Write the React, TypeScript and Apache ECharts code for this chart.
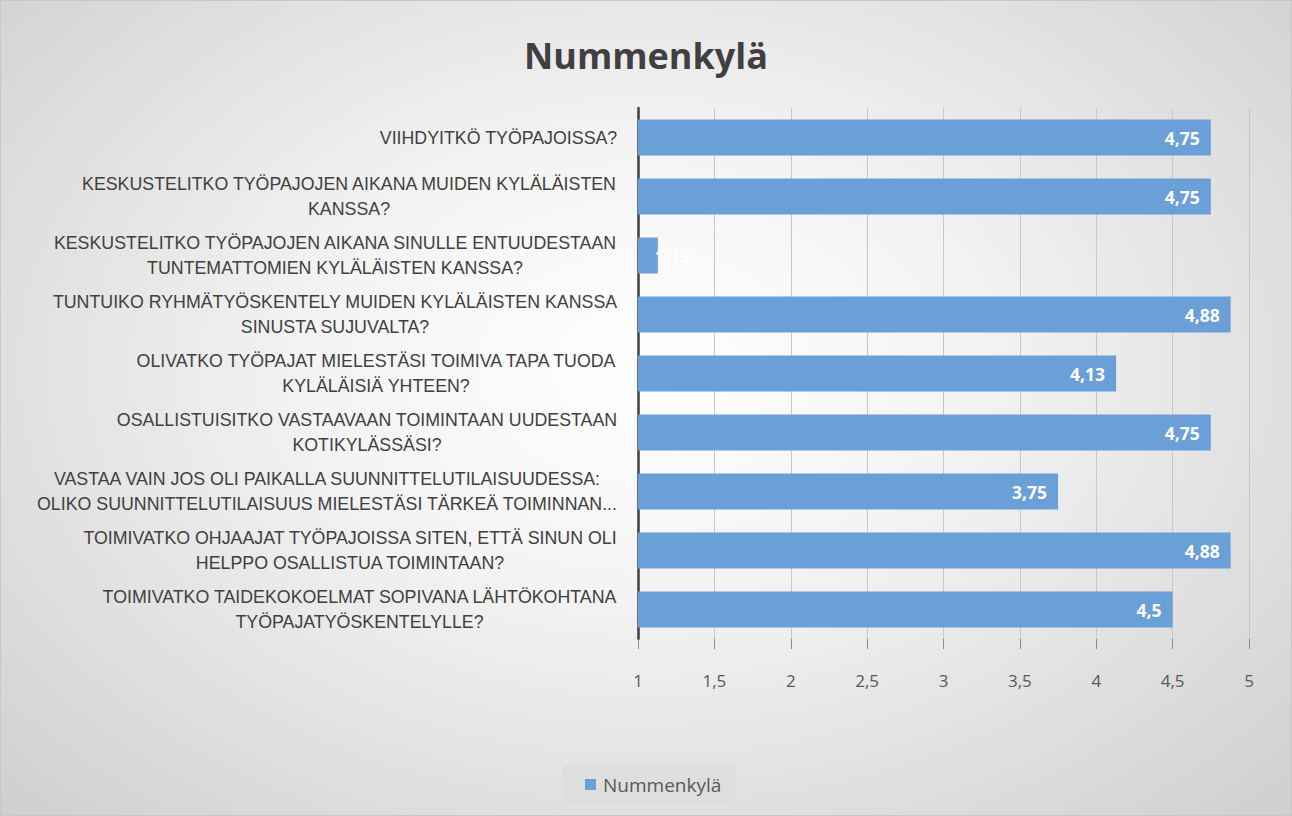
import React, { useEffect, useRef } from "react";
import * as echarts from "echarts";

const TITLE = "Nummenkylä";
const SERIES_NAME = "Nummenkylä";

const categories: string[] = [
  "VIIHDYITKÖ TYÖPAJOISSA?",
  "KESKUSTELITKO TYÖPAJOJEN AIKANA MUIDEN KYLÄLÄISTEN\nKANSSA?",
  "KESKUSTELITKO TYÖPAJOJEN AIKANA SINULLE ENTUUDESTAAN\nTUNTEMATTOMIEN KYLÄLÄISTEN KANSSA?",
  "TUNTUIKO RYHMÄTYÖSKENTELY MUIDEN KYLÄLÄISTEN KANSSA\nSINUSTA SUJUVALTA?",
  "OLIVATKO TYÖPAJAT MIELESTÄSI TOIMIVA TAPA TUODA\nKYLÄLÄISIÄ YHTEEN?",
  "OSALLISTUISITKO VASTAAVAAN TOIMINTAAN UUDESTAAN\nKOTIKYLÄSSÄSI?",
  "VASTAA VAIN JOS OLI PAIKALLA SUUNNITTELUTILAISUUDESSA:\nOLIKO SUUNNITTELUTILAISUUS MIELESTÄSI TÄRKEÄ TOIMINNAN...",
  "TOIMIVATKO OHJAAJAT TYÖPAJOISSA SITEN, ETTÄ SINUN OLI\nHELPPO OSALLISTUA TOIMINTAAN?",
  "TOIMIVATKO TAIDEKOKOELMAT SOPIVANA LÄHTÖKOHTANA\nTYÖPAJATYÖSKENTELYLLE?",
];

const values: number[] = [4.75, 4.75, 1.13, 4.88, 4.13, 4.75, 3.75, 4.88, 4.5];

const xMin = 1;
const xMax = 5;
const xInterval = 0.5;

const FONT = '"Open Sans", sans-serif';
const LABEL_FONT = '"Liberation Sans", Arial, sans-serif';
const LABEL_SIZE = 17.8;

const fmt = (v: number) => String(v).replace(".", ",");

export default function App() {
  const ref = useRef<HTMLDivElement>(null);

  useEffect(() => {
    document.body.style.margin = "0";
    if (!ref.current) return;
    const chart = echarts.init(ref.current, undefined, { renderer: "svg" });

    const canvas = document.createElement("canvas");
    const ctx = canvas.getContext("2d")!;
    ctx.font = `${LABEL_SIZE}px ${LABEL_FONT}`;
    const rich: Record<string, any> = {};
    categories.forEach((c, i) => {
      const w = Math.max(...c.split("\n").map((l) => ctx.measureText(l).width));
      rich["l" + i] = {
        width: Math.ceil(w) + 1,
        align: "center",
        fontSize: LABEL_SIZE,
        lineHeight: 25,
        fontFamily: LABEL_FONT,
        color: "#404040",
      };
    });

    const data = values.map((v) => {
      if (v < 1.5) {
        return {
          value: v,
          label: { position: "right", offset: [-14, 0] },
        };
      }
      return v;
    });

    chart.setOption({
      animation: false,
      backgroundColor: "transparent",
      textStyle: { fontFamily: FONT },
      title: {
        text: TITLE,
        left: "center",
        top: 31,
        textStyle: {
          fontSize: 36,
          fontWeight: "bold",
          color: "#404040",
          fontFamily: FONT,
        },
      },
      legend: {
        bottom: 11,
        left: 562,
        data: [SERIES_NAME],
        icon: "rect",
        itemWidth: 11,
        itemHeight: 11,
        itemGap: 4,
        backgroundColor: "#dedede",
        padding: [10, 15, 10, 22],
        textStyle: { fontSize: 19, color: "#595959", fontFamily: FONT, padding: [0, 0, 0, 2] },
      },
      grid: { left: 637, right: 42, top: 107, bottom: 176, containLabel: false },
      xAxis: {
        type: "value",
        min: xMin,
        max: xMax,
        interval: xInterval,
        axisLine: { show: false },
        axisTick: { show: true, length: 10, lineStyle: { color: "#8c8c8c" } },
        splitLine: { show: true, lineStyle: { color: "#c8c8c8", width: 1 } },
        axisLabel: {
          fontSize: 17,
          color: "#595959",
          margin: 33,
          fontFamily: FONT,
          formatter: (v: number) => fmt(v),
        },
      },
      yAxis: {
        type: "category",
        inverse: true,
        data: categories,
        axisLine: { show: true, lineStyle: { color: "#404040", width: 2.5 } },
        axisTick: { show: false },
        axisLabel: {
          margin: 20,
          align: "right",
          rich,
          formatter: (v: string, i: number) =>
            v
              .split("\n")
              .map((l) => `{l${i}|${l}}`)
              .join("\n"),
        },
      },
      series: [
        {
          name: SERIES_NAME,
          type: "bar",
          data,
          barCategoryGap: "39%",
          itemStyle: { color: "#6a9fd8" },
          label: {
            show: true,
            position: "insideRight",
            distance: 11,
            color: "#ffffff",
            fontSize: 17.5,
            fontWeight: "bold",
            fontFamily: FONT,
            formatter: (p: any) => fmt(p.value),
          },
        },
      ],
    });

    return () => chart.dispose();
  }, []);

  return (
    <div
      style={{
        width: 1292,
        height: 816,
        boxSizing: "border-box",
        border: "1px solid #c8c8c8",
        background:
          "radial-gradient(ellipse at 50% 45%, #ffffff 0%, #f4f4f4 35%, #e0e0e0 70%, #cfcfcf 100%)",
      }}
    >
      <div ref={ref} style={{ width: "100%", height: "100%" }} />
    </div>
  );
}
